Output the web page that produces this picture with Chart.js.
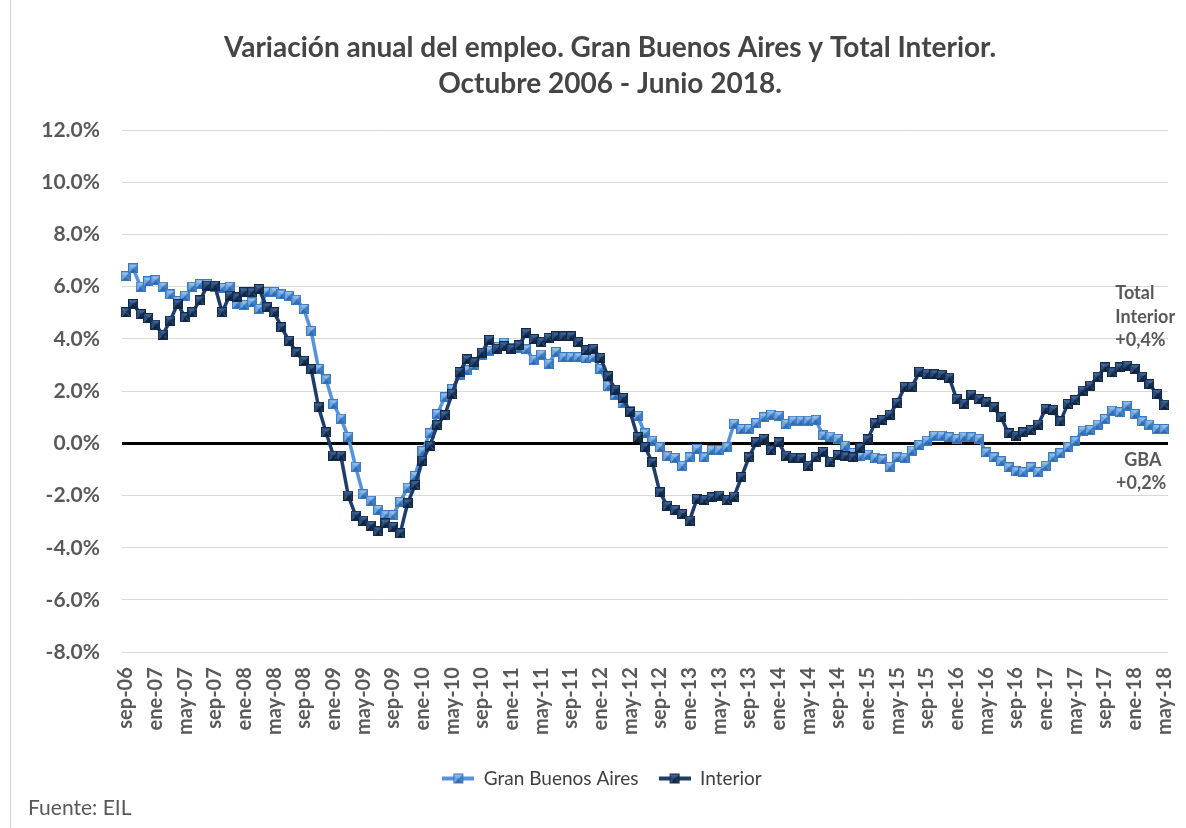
<!DOCTYPE html>
<html lang="es">
<head>
  <meta charset="UTF-8">
  <title>Variación anual del empleo</title>
  <script src="https://cdn.jsdelivr.net/npm/chart.js"></script>
  <style>
    html, body { margin: 0; padding: 0; background: #fff; }
    #marco { position: relative; width: 1186px; height: 828px; }
    #marco::before { content: ''; position: absolute; left: 10px; top: 0; bottom: 0; border-left: 1px solid #d0d0d0; }
  </style>
</head>
<body>
  <div id="marco">
    <canvas id="graficoEmpleo" width="1186" height="828"></canvas>
  </div>

<script>
  // Datos (variacion anual %, mensual desde sep-06)
  var meses = ['ene', 'feb', 'mar', 'abr', 'may', 'jun', 'jul', 'ago', 'sep', 'oct', 'nov', 'dic'];
  var mesInicial = 8;      // sep
  var anioInicial = 2006;

  var titulo = ['Variación anual del empleo. Gran Buenos Aires y Total Interior.', 'Octubre 2006 - Junio 2018.'];

  var gba = [
    6.4, 6.7, 6.0, 6.2, 6.25, 6.0, 5.7, 5.45, 5.65, 6.0, 6.1, 6.1,
    6.0, 5.95, 6.0, 5.35, 5.3, 5.4, 5.15, 5.8, 5.8, 5.7, 5.65, 5.5,
    5.15, 4.3, 2.85, 2.45, 1.5, 0.95, 0.25, -0.9, -1.95, -2.2, -2.55, -2.75,
    -2.75, -2.25, -1.7, -1.25, -0.3, 0.38, 1.12, 1.76, 2.08, 2.6, 2.8, 3.0,
    3.4, 3.55, 3.7, 3.85, 3.65, 3.65, 3.6, 3.2, 3.4, 3.05, 3.5, 3.3,
    3.3, 3.3, 3.25, 3.3, 2.85, 2.2, 1.85, 1.55, 1.25, 1.05, 0.38, 0.1,
    -0.15, -0.5, -0.56, -0.86, -0.54, -0.22, -0.54, -0.26, -0.26, -0.15, 0.75, 0.55,
    0.55, 0.77, 1.0, 1.1, 1.05, 0.75, 0.87, 0.87, 0.87, 0.9, 0.3, 0.26,
    0.17, -0.1, -0.37, -0.5, -0.43, -0.55, -0.62, -0.9, -0.54, -0.55, -0.28, -0.07,
    0.1, 0.29, 0.29, 0.23, 0.17, 0.26, 0.23, 0.17, -0.35, -0.54, -0.69, -0.92,
    -1.07, -1.1, -0.92, -1.1, -0.86, -0.54, -0.38, -0.15, 0.08, 0.49, 0.51, 0.72,
    0.93, 1.25, 1.19, 1.44, 1.12, 0.84, 0.72, 0.55, 0.55
  ];

  var interior = [
    5.02, 5.34, 4.95, 4.8, 4.55, 4.16, 4.7, 5.34, 4.83, 5.02, 5.47, 6.04,
    6.04, 5.02, 5.66, 5.59, 5.79, 5.79, 5.91, 5.21, 5.02, 4.44, 3.93, 3.48,
    3.16, 2.84, 1.38, 0.42, -0.47, -0.47, -2.0, -2.77, -2.96, -3.15, -3.37, -3.07,
    -3.2, -3.45, -2.3, -1.6, -0.66, -0.1, 0.7, 1.07, 1.9, 2.73, 3.22, 3.1,
    3.47, 3.96, 3.62, 3.72, 3.62, 3.75, 4.22, 4.0, 3.88, 4.04, 4.1, 4.1,
    4.1, 3.88, 3.56, 3.62, 3.27, 2.57, 2.06, 1.74, 1.2, 0.24, -0.15, -0.73,
    -1.88, -2.39, -2.55, -2.71, -2.96, -2.13, -2.17, -2.07, -2.0, -2.17, -2.04, -1.3,
    -0.54, 0.04, 0.17, -0.26, 0.04, -0.47, -0.55, -0.57, -0.86, -0.52, -0.33, -0.7,
    -0.45, -0.5, -0.54, -0.17, 0.15, 0.77, 0.9, 1.1, 1.55, 2.16, 2.17, 2.74,
    2.67, 2.65, 2.63, 2.52, 1.7, 1.52, 1.86, 1.7, 1.57, 1.38, 1.0, 0.38,
    0.29, 0.42, 0.51, 0.72, 1.32, 1.28, 0.84, 1.51, 1.66, 2.02, 2.21, 2.55,
    2.91, 2.72, 2.91, 2.98, 2.85, 2.55, 2.27, 1.89, 1.48
  ];

  var ejeYMin = -8;
  var ejeYMax = 12;
  var ejeYPaso = 2;

  // Etiquetas mensuales tipo "sep-06"
  var etiquetas = [];
  for (var i = 0; i < gba.length; i++) {
    var m = (mesInicial + i) % 12;
    var a = anioInicial + Math.floor((mesInicial + i) / 12);
    etiquetas.push(meses[m] + '-' + String(a).slice(2));
  }

  var grisTexto = '#595959';
  var fuente = 'Lato, "Open Sans", sans-serif';

  // Marcador cuadrado con efecto "piramide" como en Excel
  function crearMarcador(c1, c2, c3, c4, borde) {
    var cv = document.createElement('canvas');
    cv.width = 10; cv.height = 10;
    var g = cv.getContext('2d');
    function tri(p1, p2, color) {
      g.beginPath(); g.moveTo(p1[0], p1[1]); g.lineTo(p2[0], p2[1]); g.lineTo(5, 5); g.closePath();
      g.fillStyle = color; g.fill();
    }
    tri([0, 0], [10, 0], c1);
    tri([0, 0], [0, 10], c2);
    tri([10, 0], [10, 10], c3);
    tri([0, 10], [10, 10], c4);
    g.strokeStyle = borde; g.lineWidth = 1;
    g.strokeRect(0.5, 0.5, 9, 9);
    return cv;
  }

  function crearLeyenda(colorLinea, marcador) {
    var cv = document.createElement('canvas');
    cv.width = 32; cv.height = 12;
    var g = cv.getContext('2d');
    g.strokeStyle = colorLinea; g.lineWidth = 4;
    g.beginPath(); g.moveTo(0, 6); g.lineTo(32, 6); g.stroke();
    g.drawImage(marcador, 11, 1);
    return cv;
  }

  var marcadorGba = crearMarcador('#8fbcea', '#6fa6e0', '#3f7fc6', '#2f6bb0', '#3a78c0');
  var marcadorInt = crearMarcador('#3a5f93', '#2b4c7c', '#16304f', '#0f2440', '#12294a');
  var leyendaGba = crearLeyenda('#5593dc', marcadorGba);
  var leyendaInt = crearLeyenda('#1f3d6b', marcadorInt);

  // Titulo, textos sobre el grafico (Total Interior / GBA) y fuente
  var pluginTextos = {
    id: 'textos',
    afterDatasetsDraw: function (chart) {
      var ctx = chart.ctx;
      var x = chart.scales.x;
      var y = chart.scales.y;
      ctx.save();
      ctx.textBaseline = 'middle';

      ctx.fillStyle = '#454545';
      ctx.font = 'bold 28px ' + fuente;
      ctx.textAlign = 'center';
      ctx.fillText(titulo[0], 610, 48);
      ctx.fillText(titulo[1], 610, 84);

      ctx.fillStyle = grisTexto;
      ctx.font = 'bold 18px ' + fuente;
      ctx.textAlign = 'left';
      ctx.fillText('Total', x.getPixelForValue(133.4), y.getPixelForValue(5.75));
      ctx.fillText('Interior', x.getPixelForValue(133.4), y.getPixelForValue(4.83));
      ctx.fillText('+0,4%', x.getPixelForValue(133.4), y.getPixelForValue(3.95));
      ctx.fillText('GBA', x.getPixelForValue(134.6), y.getPixelForValue(-0.65));
      ctx.fillText('+0,2%', x.getPixelForValue(133.5), y.getPixelForValue(-1.53));
      ctx.font = '21px ' + fuente;
      ctx.fillText('Fuente: EIL', 28, 808);
      ctx.restore();
    }
  };

  var ctx = document.getElementById('graficoEmpleo').getContext('2d');
  var grafico = new Chart(ctx, {
    type: 'line',
    data: {
      labels: etiquetas,
      datasets: [{
        label: 'Gran Buenos Aires',
        data: gba,
        borderColor: '#5593dc',
        borderWidth: 3.5,
        pointStyle: marcadorGba,
        pointRadius: 5,
        tension: 0,
        order: 1
      }, {
        label: 'Interior',
        data: interior,
        borderColor: '#1f3d6b',
        borderWidth: 3.5,
        pointStyle: marcadorInt,
        pointRadius: 5,
        tension: 0,
        order: 0
      }]
    },
    options: {
      responsive: false,
      animation: false,
      layout: { padding: { left: 36, right: 18, top: 130, bottom: 30 } },
      plugins: {
        title: { display: false },
        legend: {
          position: 'bottom',
          labels: {
            usePointStyle: true,
            pointStyleWidth: 32,
            color: '#404040',
            font: { family: fuente, size: 19 },
            padding: 20,
            sort: function (a, b) { return a.datasetIndex - b.datasetIndex; },
            generateLabels: function (chart) {
              return [
                { text: 'Gran Buenos Aires', pointStyle: leyendaGba, datasetIndex: 0, fontColor: '#404040', lineWidth: 0 },
                { text: 'Interior', pointStyle: leyendaInt, datasetIndex: 1, fontColor: '#404040', lineWidth: 0 }
              ];
            }
          }
        },
        tooltip: { enabled: false }
      },
      scales: {
        x: {
          offset: true,
          grid: { display: false },
          border: { display: false },
          afterFit: function (eje) {
            eje.height += 7;
            eje.paddingLeft = 0;
            eje.paddingRight = 0;
          },
          ticks: {
            autoSkip: false,
            minRotation: 90,
            maxRotation: 90,
            padding: 7,
            color: grisTexto,
            font: { family: fuente, size: 20, weight: 'bold' },
            callback: function (valor, indice) {
              return indice % 4 === 0 ? etiquetas[indice] : '';
            }
          }
        },
        y: {
          min: ejeYMin,
          max: ejeYMax,
          border: { display: false },
          afterFit: function (eje) { eje.width = 86; },
          grid: {
            drawTicks: false,
            color: function (c) { return c.tick && c.tick.value === 0 ? '#000000' : '#d9d9d9'; },
            lineWidth: function (c) { return c.tick && c.tick.value === 0 ? 3 : 1; }
          },
          ticks: {
            stepSize: ejeYPaso,
            padding: 22,
            color: grisTexto,
            font: { family: fuente, size: 21, weight: 'bold' },
            callback: function (valor) { return valor.toFixed(1) + '%'; }
          }
        }
      }
    },
    plugins: [pluginTextos]
  });
</script>
</body>
</html>
